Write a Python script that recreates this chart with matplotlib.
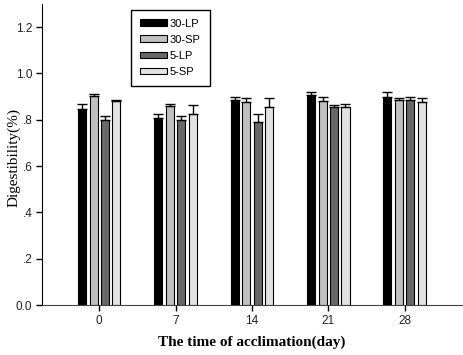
import numpy as np
import matplotlib.pyplot as plt
from matplotlib.patches import Patch

days = ["0", "7", "14", "21", "28"]
series = ["30-LP", "30-SP", "5-LP", "5-SP"]
colors = ["#000000", "#c0c0c0", "#686868", "#e2e2e2"]

lp30 = [0.846, 0.807, 0.886, 0.906, 0.900]
sp30 = [0.902, 0.860, 0.875, 0.880, 0.885]
lp5 = [0.799, 0.799, 0.789, 0.853, 0.886]
sp5 = [0.880, 0.827, 0.856, 0.856, 0.876]

lp30_err = [0.020, 0.016, 0.014, 0.014, 0.020]
sp30_err = [0.008, 0.010, 0.017, 0.018, 0.011]
lp5_err = [0.017, 0.017, 0.034, 0.012, 0.013]
sp5_err = [0.004, 0.035, 0.036, 0.014, 0.016]

values = [lp30, sp30, lp5, sp5]
errors = [lp30_err, sp30_err, lp5_err, sp5_err]

fig = plt.figure(figsize=(4.63, 3.55), dpi=100)
ax = fig.add_axes([0.0907, 0.1408, 0.907, 0.848])

x = np.arange(1, len(days) + 1)
pitch = 0.15
width = 0.105
for i, (vals, errs, color) in enumerate(zip(values, errors, colors)):
    pos = x + (i - 1.5) * pitch
    ax.bar(pos, vals, width, color=color, edgecolor="black", linewidth=0.8, zorder=2)
    ax.errorbar(pos, vals, yerr=[np.zeros(len(errs)), errs], fmt="none",
                ecolor="black", elinewidth=1, capsize=3.5, capthick=1, zorder=3)

ax.set_xlim(0.25, 5.75)
ax.set_ylim(0, 1.3)
ax.set_xticks(x, days)
ax.set_yticks([0, 0.2, 0.4, 0.6, 0.8, 1.0, 1.2], ["0.0", ".2", ".4", ".6", ".8", "1.0", "1.2"])
ax.tick_params(direction="out", length=4, width=1, labelsize=8.5, labelcolor="#222222",
               labelfontfamily="Liberation Sans")
ax.tick_params(axis="y", pad=3)
for side in ["top", "right"]:
    ax.spines[side].set_visible(False)
ax.spines["left"].set_color("black")
ax.spines["bottom"].set_color("#444444")

ax.set_xlabel("The time of acclimation(day)", fontfamily="Liberation Serif",
              fontsize=11, fontweight="bold")
ax.xaxis.set_label_coords(0.5, -0.1)
ax.set_ylabel("Digestibility(%)", fontfamily="Liberation Serif", fontsize=11)
ax.yaxis.set_label_coords(-0.052, 0.49)

handles = [Patch(facecolor=c, edgecolor="black", linewidth=0.8) for c in colors]
leg = ax.legend(handles, series, loc="upper left", bbox_to_anchor=(0.212, 0.981),
                frameon=True, fancybox=False, edgecolor="black", framealpha=1,
                prop={"family": "Liberation Sans", "size": 8},
                handlelength=2.4, handleheight=0.55, handletextpad=0.3,
                labelspacing=0.55, borderpad=0.8, borderaxespad=0)
leg.get_frame().set_linewidth(1)

fig.savefig("out.png", dpi=100)
